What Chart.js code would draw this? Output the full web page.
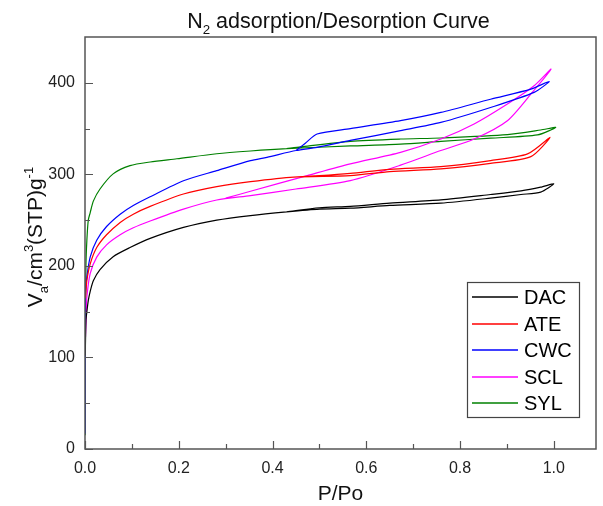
<!DOCTYPE html>
<html>
<head>
<meta charset="utf-8">
<script src="https://cdn.jsdelivr.net/npm/chart.js@4.4.0/dist/chart.umd.min.js"></script>
<style>
  html, body { margin: 0; padding: 0; background: #fff; }
</style>
</head>
<body>
<canvas id="chart" width="603" height="506"></canvas>
<script>
const fontFamily = 'Arial, "Liberation Sans", sans-serif';

// sample names and colours
const sampleNames = ['DAC', 'ATE', 'CWC', 'SCL', 'SYL'];
const sampleColors = ['#000000', '#ff0000', '#0000ff', '#ff00ff', '#008000'];

// [P/Po, Va]: adsorption going up, desorption coming back
const dacAds = [[0.0005,102],[0.002,140],[0.004,150],[0.007,162],[0.011,172],[0.018,184],[0.032,196],[0.06,210],[0.096,220],[0.139,230],[0.21,242],[0.281,250],[0.353,255],[0.43,259],[0.5,262],[0.566,263],[0.65,266],[0.759,268.5],[0.865,274],[0.93,278],[0.972,280.5],[1.0,289.6]];
const dacDes = [[0.972,286],[0.93,282],[0.865,278],[0.759,272],[0.65,268.5],[0.566,265],[0.5,263.5],[0.43,259]];

const ateAds = [[0.001,165],[0.004,184],[0.011,202],[0.025,220],[0.046,234],[0.075,247.5],[0.103,256.5],[0.139,265],[0.21,278.5],[0.281,286.5],[0.353,292],[0.445,297],[0.566,298.6],[0.65,303],[0.759,306],[0.865,312],[0.951,319.3],[0.992,340.4]];
const ateDes = [[0.944,322.3],[0.865,315],[0.759,308.4],[0.65,305.5],[0.566,301],[0.5,298.5],[0.445,297]];

const cwcAds = [[0.0003,17],[0.001,170],[0.004,188],[0.011,209.6],[0.025,228],[0.046,243],[0.075,256.5],[0.103,266],[0.139,275.5],[0.21,293],[0.281,304],[0.353,315],[0.388,318.6],[0.45,326],[0.495,329.5],[0.566,337],[0.673,347.7],[0.759,356.7],[0.865,373],[0.958,389.5],[0.99,401.4]];
const cwcDes = [[0.951,393],[0.865,382],[0.759,367.6],[0.673,358.6],[0.566,350],[0.495,344],[0.47,334],[0.45,326]];

const sclAds = [[0.001,122],[0.003,150],[0.004,166],[0.011,191.5],[0.025,209.6],[0.046,223],[0.075,234],[0.103,241.6],[0.139,249],[0.21,262],[0.281,272],[0.353,276.8],[0.45,284],[0.566,293.2],[0.673,310],[0.759,326],[0.83,338.6],[0.901,358.6],[0.954,389.5],[0.994,415]];
const sclDes = [[0.958,396.7],[0.901,376.8],[0.83,355],[0.759,338.6],[0.673,324],[0.566,311.4],[0.474,298.6],[0.353,281.5],[0.3,274]];

const sylAds = [[0.0005,15],[0.001,130],[0.002,200],[0.004,228],[0.007,250],[0.011,258],[0.018,271],[0.032,284],[0.06,300.5],[0.096,309.5],[0.139,313.5],[0.196,317],[0.281,322.5],[0.353,325.5],[0.43,328],[0.566,331],[0.673,333],[0.759,336],[0.865,339.5],[0.965,343],[1.004,351.3]];
const sylDes = [[0.972,348.4],[0.901,343.3],[0.759,339.7],[0.673,338.6],[0.566,336],[0.46,330],[0.43,328]];

const xTicks = [0, 0.2, 0.4, 0.6, 0.8, 1.0];
const yTicks = [0, 100, 200, 300, 400];

const loops = [
    dacAds.concat(dacDes),
    ateAds.concat(ateDes),
    cwcAds.concat(cwcDes),
    sclAds.concat(sclDes),
    sylAds.concat(sylDes)
];

const datasets = sampleNames.map((name, i) => ({
    label: name,
    data: loops[i].map(p => ({ x: p[0], y: p[1] })),
    borderColor: sampleColors[i],
    backgroundColor: sampleColors[i],
    borderWidth: 1.2,
    pointRadius: 0,
    showLine: true,
    tension: 0.25,
    fill: false
}));

// draw text pieces with sub/superscripts, centred on x
function drawRich(ctx, parts, x, y, size) {
    const pieces = parts.map(p => {
        const s = p.pos ? size * 0.62 : size;
        ctx.font = s + 'px ' + fontFamily;
        return { t: p.t, s: s, w: ctx.measureText(p.t).width, pos: p.pos };
    });
    const total = pieces.reduce((a, p) => a + p.w, 0);
    let cx = x - total / 2;
    ctx.textAlign = 'left';
    ctx.textBaseline = 'alphabetic';
    pieces.forEach(p => {
        ctx.font = p.s + 'px ' + fontFamily;
        let dy = 0;
        if (p.pos === 'sub') dy = size * 0.28;
        if (p.pos === 'sup') dy = -size * 0.42;
        ctx.fillText(p.t, cx, y + dy);
        cx += p.w;
    });
}

const decorPlugin = {
    id: 'decor',
    afterDatasetsDraw(chart) {
        const ctx = chart.ctx;
        const a = chart.chartArea;
        const xs = chart.scales.x;
        const ys = chart.scales.y;
        ctx.save();

        // frame
        ctx.strokeStyle = '#555';
        ctx.lineWidth = 1.5;
        ctx.strokeRect(a.left, a.top, a.right - a.left, a.bottom - a.top);

        // inward ticks
        ctx.beginPath();
        for (let k = 0; k <= 10; k++) {
            const px = Math.round(xs.getPixelForValue(k / 10)) + 0.5;
            const len = k % 2 === 0 ? 8 : 5;
            ctx.moveTo(px, a.bottom);
            ctx.lineTo(px, a.bottom - len);
        }
        for (let k = 0; k <= 8; k++) {
            const py = Math.round(ys.getPixelForValue(k * 50)) + 0.5;
            const len = k % 2 === 0 ? 8 : 5;
            ctx.moveTo(a.left, py);
            ctx.lineTo(a.left + len, py);
        }
        ctx.lineWidth = 1.2;
        ctx.stroke();

        // titles
        ctx.fillStyle = '#111';
        drawRich(ctx, [{ t: 'N' }, { t: '2', pos: 'sub' }, { t: ' adsorption/Desorption Curve' }],
            (a.left + a.right) / 2 - 2, 28, 21.5);
        drawRich(ctx, [{ t: 'P/Po' }], (a.left + a.right) / 2, 500, 21);

        ctx.save();
        ctx.translate(42, (a.top + a.bottom) / 2 - 6);
        ctx.rotate(-Math.PI / 2);
        drawRich(ctx, [{ t: 'V' }, { t: 'a', pos: 'sub' }, { t: '/cm' }, { t: '3', pos: 'sup' },
            { t: '(STP)g' }, { t: '-1', pos: 'sup' }], 0, 0, 21);
        ctx.restore();

        // legend box inside the plot
        const bx = a.right - 129, by = a.bottom - 167, bw = 112, bh = 135;
        ctx.fillStyle = '#fff';
        ctx.fillRect(bx, by, bw, bh);
        ctx.strokeStyle = '#444';
        ctx.lineWidth = 1.2;
        ctx.strokeRect(bx + 0.5, by + 0.5, bw, bh);
        ctx.font = '20px ' + fontFamily;
        ctx.textBaseline = 'middle';
        ctx.textAlign = 'left';
        chart.data.datasets.forEach((ds, i) => {
            const ry = Math.round(by + 15 + i * 26.5);
            ctx.strokeStyle = ds.borderColor;
            ctx.lineWidth = 1.5;
            ctx.beginPath();
            ctx.moveTo(bx + 5, ry);
            ctx.lineTo(bx + 51, ry);
            ctx.stroke();
            ctx.fillStyle = '#000';
            ctx.fillText(ds.label, bx + 57, ry + 1);
        });
        ctx.restore();
    }
};

new Chart(document.getElementById('chart'), {
    type: 'scatter',
    data: { datasets: datasets },
    options: {
        responsive: false,
        animation: false,
        layout: { padding: { top: 37, right: 7, left: 0, bottom: 0 } },
        plugins: {
            legend: { display: false },
            title: { display: false },
            tooltip: { enabled: false }
        },
        scales: {
            x: {
                type: 'linear',
                min: 0,
                max: 1.09,
                grid: { display: false, drawTicks: false },
                border: { display: false },
                afterFit: scale => { scale.height = 57; },
                afterBuildTicks: scale => { scale.ticks = xTicks.map(v => ({ value: v })); },
                ticks: {
                    padding: 10,
                    color: '#222',
                    font: { family: fontFamily, size: 16 },
                    maxRotation: 0,
                    callback: v => v.toFixed(1)
                }
            },
            y: {
                type: 'linear',
                min: 0,
                max: 450,
                grid: { display: false, drawTicks: false },
                border: { display: false },
                afterFit: scale => { scale.width = 85; },
                afterBuildTicks: scale => { scale.ticks = yTicks.map(v => ({ value: v })); },
                ticks: {
                    padding: 10,
                    color: '#222',
                    font: { family: fontFamily, size: 16 },
                    callback: v => String(v)
                }
            }
        }
    },
    plugins: [decorPlugin]
});
</script>
</body>
</html>
